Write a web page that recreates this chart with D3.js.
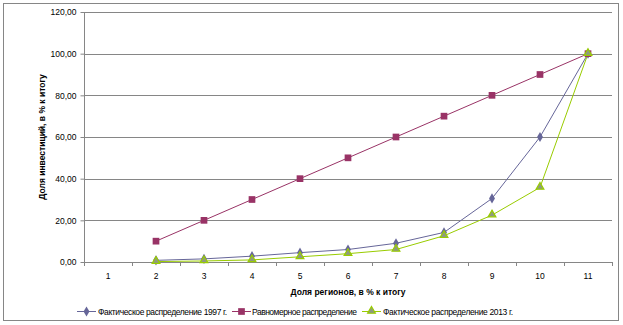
<!DOCTYPE html>
<html><head><meta charset="utf-8">
<script src="https://cdn.jsdelivr.net/npm/d3@7"></script>
<style>body{margin:0;background:#fff}svg{display:block}</style>
</head><body>
<svg id="c" width="623" height="325"></svg>
<script>
const categories = ["1","2","3","4","5","6","7","8","9","10","11"];
const yTicks = [0,20,40,60,80,100,120];
const seriesNames = ["Фактическое распределение 1997 г.","Равномерное распределение","Фактическое распределение 2013 г."];
const fact1997 = [null,0.8,1.5,2.8,4.5,6.0,9.0,14.2,30.5,60.0,100];
const uniform = [null,10,20,30,40,50,60,70,80,90,100];
const fact2013 = [null,0.2,0.5,1.0,2.5,4.0,6.0,12.6,22.5,35.8,100];
const colors = ["#666699","#993366","#99CC00"];

const svg = d3.select("#c");
const font = "'Liberation Sans', Arial, sans-serif";
svg.append("rect").attr("x",3.5).attr("y",3.5).attr("width",615).attr("height",317)
  .attr("fill","#fff").attr("stroke","#868686");

const x = d3.scaleBand().domain(categories).range([84,612]).paddingInner(0).paddingOuter(0);
const y = d3.scaleLinear().domain([0,120]).range([262,12]);

// gridlines
svg.append("g").selectAll("line").data(yTicks.filter(d=>d>0)).join("line")
  .attr("x1",84).attr("x2",612).attr("y1",d=>Math.round(y(d))+0.5).attr("y2",d=>Math.round(y(d))+0.5)
  .attr("stroke","#868686");

// y axis
const ya = svg.append("g").attr("transform","translate(84.5,0)")
  .call(d3.axisLeft(y).tickValues(yTicks).tickSize(4).tickFormat(d=>d3.format(".2f")(d).replace(".",",")));
ya.select(".domain").attr("stroke","#868686").attr("d","M0,12V262");
ya.selectAll(".tick line").attr("stroke","#868686");
ya.selectAll(".tick text").attr("x",-8).attr("font-family",font).attr("font-size","8.5px").attr("fill","#000");

// x axis
const xa = svg.append("g").attr("transform","translate(0,262.5)")
  .call(d3.axisBottom(x).tickSize(0).tickPadding(10));
xa.select(".domain").attr("stroke","#868686").attr("d","M84,0H612");
xa.selectAll(".tick text").attr("font-family",font).attr("font-size","8.5px").attr("fill","#000");
svg.append("g").selectAll("line").data(categories.concat(["end"])).join("line")
  .attr("x1",(d,i)=>Math.round(84+i*x.bandwidth())+0.5).attr("x2",(d,i)=>Math.round(84+i*x.bandwidth())+0.5)
  .attr("y1",262).attr("y2",266).attr("stroke","#868686");

// titles
svg.append("text").attr("x",348).attr("y",295).attr("text-anchor","middle")
  .attr("font-family",font).attr("font-size","8.5px").attr("font-weight","bold").text("Доля регионов, в % к итогу");
svg.append("text").attr("transform","translate(44.5,137) rotate(-90)").attr("text-anchor","middle")
  .attr("font-family",font).attr("font-size","8.5px").attr("font-weight","bold").text("Доля инвестиций, в % к итогу");

const cx = i => x(categories[i]) + x.bandwidth()/2;
const line = d3.line().defined(d=>d!=null).x((d,i)=>cx(i)).y(d=>y(d));
const allSeries = [fact1997, uniform, fact2013];
const shapes = [d3.symbolDiamond, d3.symbolSquare, d3.symbolTriangle];
const sizes = [30, 45, 26];

function drawMarker(g, k, px, py){
  const p = g.append("path").attr("d", d3.symbol().type(shapes[k]).size(sizes[k])())
    .attr("transform",`translate(${px},${py+(k==2?-0.5:0)})`);
  if(k==2) p.attr("fill","#8f9a80").attr("stroke",colors[2]).attr("stroke-width",1.2);
  else p.attr("fill",colors[k]);
}

allSeries.forEach((s,k)=>{
  svg.append("path").datum(s).attr("d",line).attr("fill","none").attr("stroke",colors[k]).attr("stroke-width",1);
});
allSeries.forEach((s,k)=>{
  const g = svg.append("g");
  s.forEach((v,i)=>{ if(v!=null) drawMarker(g,k,cx(i),y(v)); });
});

// legend
const leg = [{x0:77, tx:98, tw:129},{x0:232, tx:252, tw:105},{x0:362, tx:383, tw:130}];
leg.forEach((l,k)=>{
  svg.append("line").attr("x1",l.x0).attr("x2",l.x0+19).attr("y1",311.5).attr("y2",311.5).attr("stroke",colors[k]);
  drawMarker(svg.append("g"),k,l.x0+9.5,311.5);
  svg.append("text").attr("x",l.tx).attr("y",314.5).attr("font-family",font).attr("font-size","8.5px")
    .attr("textLength",l.tw).attr("lengthAdjust","spacing").text(seriesNames[k]);
});
</script>
</body></html>
